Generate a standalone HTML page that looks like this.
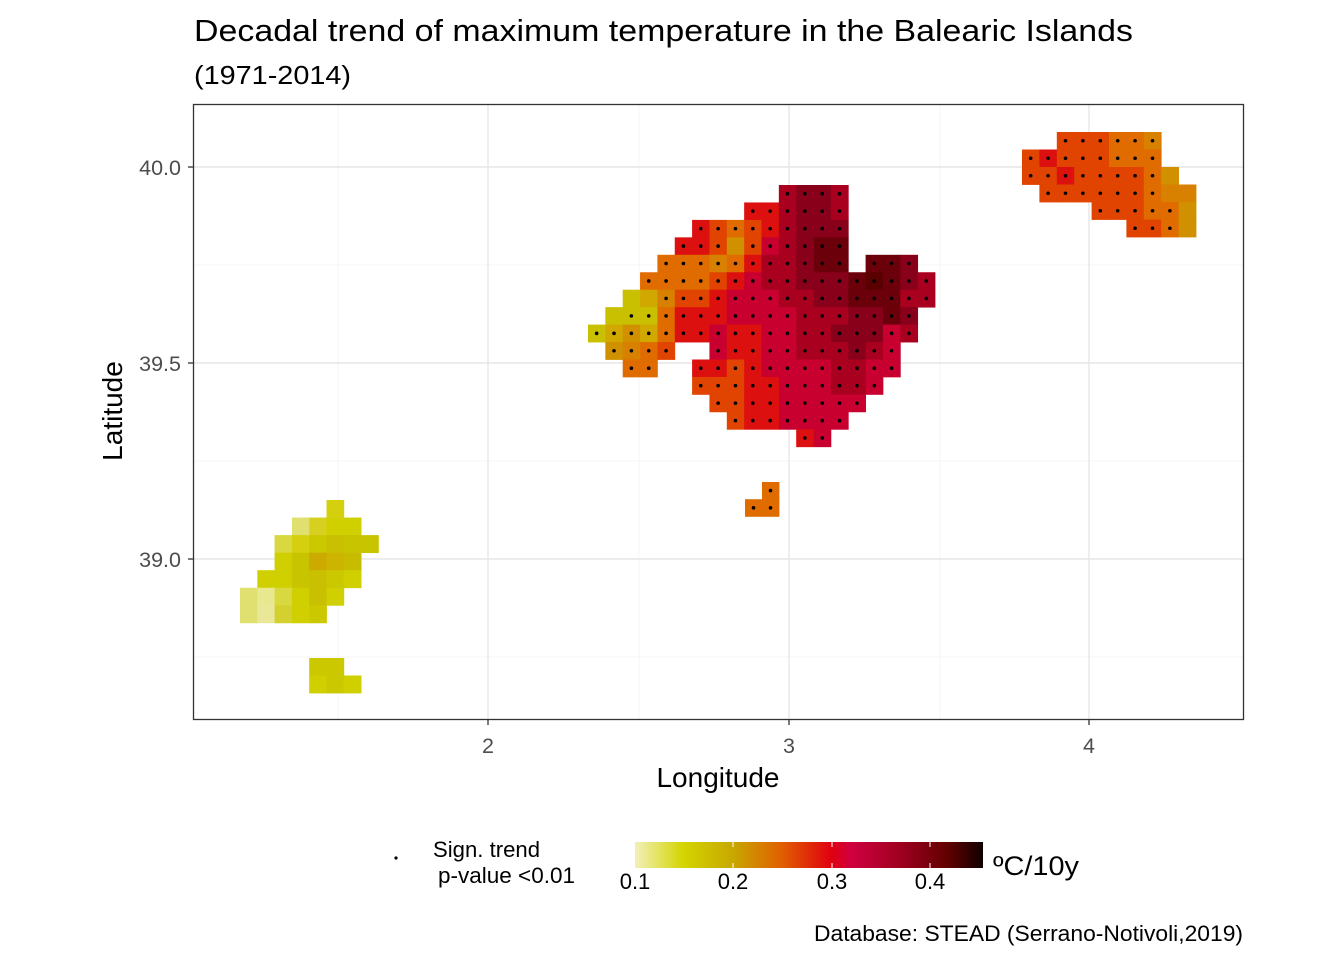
<!DOCTYPE html>
<html><head><meta charset="utf-8"><style>
html,body{margin:0;padding:0;background:#fff;}
svg{display:block;font-family:"Liberation Sans",Arial,sans-serif;}
</style></head><body>
<svg id="s" width="1344" height="960" xmlns="http://www.w3.org/2000/svg">
<defs>
<linearGradient id="cb" x1="0" x2="1" y1="0" y2="0">
<stop offset="0" stop-color="#f2f0b8"/>
<stop offset="0.14" stop-color="#d4d400"/>
<stop offset="0.28" stop-color="#c8a800"/>
<stop offset="0.42" stop-color="#e06000"/>
<stop offset="0.565" stop-color="#e00010"/>
<stop offset="0.62" stop-color="#d00040"/>
<stop offset="0.76" stop-color="#a00020"/>
<stop offset="0.9" stop-color="#600000"/>
<stop offset="1" stop-color="#100000"/>
</linearGradient>
</defs>
<rect x="0" y="0" width="1344" height="960" fill="#fff"/>
<g stroke="#f4f4f4" stroke-width="1">
<line x1="338" y1="104" x2="338" y2="720"/><line x1="639" y1="104" x2="639" y2="720"/><line x1="940" y1="104" x2="940" y2="720"/>
<line x1="193" y1="265" x2="1244" y2="265"/><line x1="193" y1="461" x2="1244" y2="461"/><line x1="193" y1="657" x2="1244" y2="657"/>
</g>
<g stroke="#e6e6e6" stroke-width="1.4">
<line x1="488" y1="104" x2="488" y2="720"/><line x1="789" y1="104" x2="789" y2="720"/><line x1="1089" y1="104" x2="1089" y2="720"/>
<line x1="193" y1="167" x2="1244" y2="167"/><line x1="193" y1="363" x2="1244" y2="363"/><line x1="193" y1="559" x2="1244" y2="559"/>
</g>
<g id="cells"></g>
<g id="dots" fill="#000"></g>
<rect x="193.5" y="104.5" width="1050" height="615" fill="none" stroke="#333" stroke-width="1.3"/>
<g stroke="#333" stroke-width="1.3">
<line x1="188" y1="167" x2="193" y2="167"/><line x1="188" y1="363" x2="193" y2="363"/><line x1="188" y1="559" x2="193" y2="559"/>
<line x1="488" y1="720" x2="488" y2="725"/><line x1="789" y1="720" x2="789" y2="725"/><line x1="1089" y1="720" x2="1089" y2="725"/>
</g>
<g fill="#4d4d4d" font-size="21.5">
<text x="181" y="175" text-anchor="end">40.0</text>
<text x="181" y="371" text-anchor="end">39.5</text>
<text x="181" y="567" text-anchor="end">39.0</text>
<text x="488" y="753" text-anchor="middle">2</text>
<text x="789" y="753" text-anchor="middle">3</text>
<text x="1089" y="753" text-anchor="middle">4</text>
</g>
<text x="718" y="787" text-anchor="middle" font-size="28">Longitude</text>
<text transform="translate(122,411) rotate(-90)" text-anchor="middle" font-size="28">Latitude</text>
<text x="194" y="41" font-size="31" textLength="939" lengthAdjust="spacingAndGlyphs">Decadal trend of maximum temperature in the Balearic Islands</text>
<text x="194" y="84" font-size="26" textLength="157" lengthAdjust="spacingAndGlyphs">(1971-2014)</text>
<circle cx="396" cy="858" r="1.6" fill="#000"/>
<text x="433" y="857" font-size="22" textLength="107" lengthAdjust="spacingAndGlyphs">Sign. trend</text>
<text x="438" y="883" font-size="22" textLength="137" lengthAdjust="spacingAndGlyphs">p-value &lt;0.01</text>
<rect x="635" y="842" width="348" height="26" fill="url(#cb)"/>
<g stroke="#fff" stroke-width="1">
<line x1="733" y1="842" x2="733" y2="847"/><line x1="733" y1="863" x2="733" y2="868"/>
<line x1="832" y1="842" x2="832" y2="847"/><line x1="832" y1="863" x2="832" y2="868"/>
<line x1="930" y1="842" x2="930" y2="847"/><line x1="930" y1="863" x2="930" y2="868"/>
</g>
<g font-size="22" text-anchor="middle">
<text x="635" y="889">0.1</text><text x="733" y="889">0.2</text><text x="832" y="889">0.3</text><text x="930" y="889">0.4</text>
</g>
<text x="993" y="875" font-size="27" textLength="86" lengthAdjust="spacingAndGlyphs">ºC/10y</text>
<text x="1243" y="941" font-size="22" text-anchor="end" textLength="429" lengthAdjust="spacingAndGlyphs">Database: STEAD (Serrano-Notivoli,2019)</text>
</svg>
<script>
var P={a:"#dd1010",b:"#e04400",c:"#e06c00",d:"#c80030",e:"#a8001e",f:"#88001a",g:"#6c000a",h:"#d09000",i:"#c8c000",j:"#d0a800",k:"#d88000",l:"#5a0000"};
var cells=document.getElementById("cells"),dots=document.getElementById("dots");
var NS="http://www.w3.org/2000/svg";
function rect(x,y,w,h,c){var r=document.createElementNS(NS,"rect");r.setAttribute("x",x.toFixed(2));r.setAttribute("y",y.toFixed(2));r.setAttribute("width",(w+0.4).toFixed(2));r.setAttribute("height",(h+0.4).toFixed(2));r.setAttribute("fill",c);cells.appendChild(r);}
function dot(x,y){var c=document.createElementNS(NS,"circle");c.setAttribute("cx",x.toFixed(2));c.setAttribute("cy",y.toFixed(2));c.setAttribute("r","1.8");dots.appendChild(c);}
function grid(rows,x0,y0,w,h,nodot){
 rows.forEach(function(s,r){for(var c=0;c<s.length;c++){var ch=s[c];if(ch==".")continue;
  var x=x0+c*w,y=y0+r*h;rect(x,y,w,h,P[ch]);
  if(nodot.indexOf(r+","+c)<0)dot(x+w/2,y+h/2);}});
}
grid([
"...........effe.....",
".........aaeffe.....",
"......abcbaefff.....",
".....aabhbdefgg.....",
"....ccckcaeefgg.ggf.",
"...ccccbadeefffglgfe",
"..ijkbbadddeeffgggee",
".iiicaaaddddeeeffgf.",
"ijhjcaadaaddeefffde.",
".hkcb..daaddeeefed..",
"..cc..aabaddddeedd..",
"......bbbaadddeed...",
".......bbaaddddd....",
"........baadddd.....",
"............ad......"],588,185,17.35,17.45,["3,8","6,2","6,3","7,1"]);
grid([
"..bbbcck..",
"babbbccc..",
"bbabbbbch.",
".bbbbbbckk",
"....bbbcch",
"......bbch"],1022,132,17.4,17.5,["2,8","3,8","3,9","4,9","5,9"]);
grid([".c","cc"],745,482,17,17.2,[]);
var I=[
[[5,"#d4d010"]],
[[3,"#e0e070"],[4,"#d8d020"],[5,"#d0d000"],[6,"#d0d000"]],
[[2,"#d8d840"],[3,"#d4d010"],[4,"#ccc800"],[5,"#c8c000"],[6,"#c8c400"],[7,"#c8c400"]],
[[2,"#d0d000"],[3,"#c8c400"],[4,"#ccaa00"],[5,"#ccb400"],[6,"#c8bc00"]],
[[1,"#d0d000"],[2,"#d0d000"],[3,"#c8c400"],[4,"#c8c000"],[5,"#ccc800"],[6,"#d0d000"]],
[[0,"#e0e070"],[1,"#e8e890"],[2,"#d8d840"],[3,"#d0d000"],[4,"#c8c000"],[5,"#d0d000"]],
[[0,"#e0e070"],[1,"#e8e898"],[2,"#d4d030"],[3,"#d0d000"],[4,"#ccc800"]]];
I.forEach(function(row,r){row.forEach(function(p){rect(240+p[0]*17.3,500+r*17.55,17.3,17.55,p[1]);});});
[[[4,"#ccc800"],[5,"#ccc800"]],[[4,"#d0d000"],[5,"#ccc800"],[6,"#d0d000"]]].forEach(function(row,r){row.forEach(function(p){rect(240+p[0]*17.3,658+r*17.5,17.3,17.5,p[1]);});});
</script>
</body></html>
